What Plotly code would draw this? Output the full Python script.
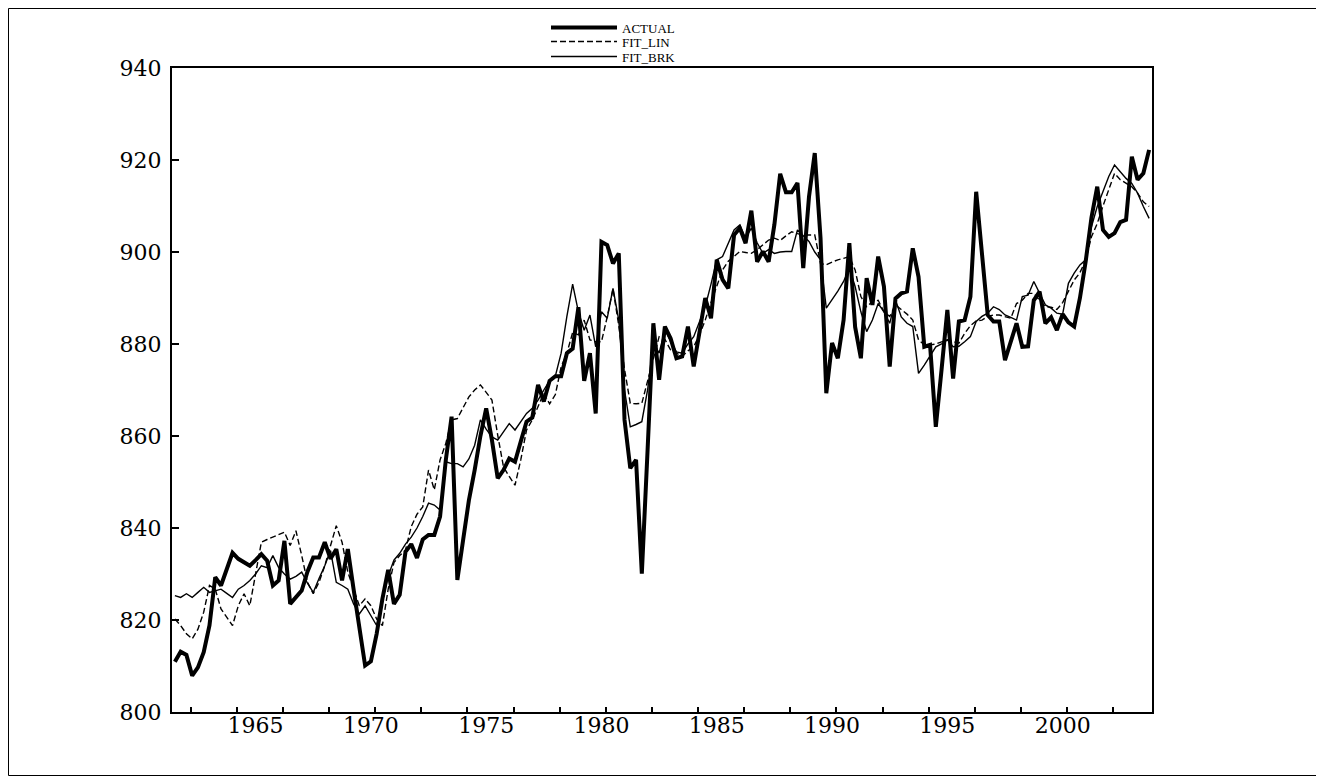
import numpy as np
import plotly.graph_objects as go

# ---------------- data (quarterly, first observation 1961Q3) ----------------
start_year, start_quarter = 1961, 3

actual = [
    810.9, 813.1, 812.4, 807.9, 809.7, 813.0, 818.8, 829.3, 827.5, 831.1,
    834.6, 833.3, 832.5, 831.8, 833.0, 834.3, 832.9, 827.5, 828.6, 837.2,
    823.5, 824.9, 826.4, 830.5, 833.6, 833.6, 836.9, 833.3, 835.4, 828.6,
    835.4, 826.7, 818.0, 810.1, 811.0, 817.0, 824.6, 830.9, 823.5, 825.5,
    834.8, 836.5, 833.5, 837.5, 838.5, 838.5, 842.5, 854.8, 864.2, 828.7,
    837.4, 846.0, 852.6, 860.0, 866.0, 859.1, 850.8, 852.6, 855.1, 854.4,
    858.8, 863.1, 864.0, 871.1, 867.5, 872.0, 873.0, 873.0, 878.0, 879.0,
    888.0, 872.0, 878.0, 864.9, 902.2, 901.5, 897.5, 899.7, 863.5, 853.0,
    854.8, 830.1, 857.0, 884.5, 872.2, 883.8, 881.2, 876.9, 877.3, 883.8,
    875.1, 883.0, 890.0, 885.6, 898.3, 894.0, 892.1, 903.7, 905.2, 901.9,
    909.0, 897.9, 900.1, 897.9, 906.0, 917.0, 913.0, 913.0, 915.0, 896.5,
    912.0, 921.5, 903.0, 869.3, 880.2, 876.9, 885.2, 901.9, 883.7, 876.9,
    894.3, 888.5, 899.0, 892.5, 875.1, 889.9, 891.0, 891.4, 900.8, 894.6,
    879.4, 879.8, 862.0, 874.5, 887.4, 872.5, 884.9, 885.2, 890.3, 913.1,
    900.0, 886.3, 884.9, 884.9, 876.5, 880.5, 884.5, 879.4, 879.5, 889.5,
    891.4, 884.5, 885.8, 883.0, 886.5, 884.7, 883.8, 890.0, 898.0, 907.5,
    914.2, 904.8, 903.3, 904.1, 906.5, 907.0, 920.7, 915.7, 917.1, 922.2,
]

fit_lin = [
    820.2, 818.8, 817.0, 815.9, 818.0, 821.7, 827.5, 826.7, 822.4, 820.5,
    818.8, 823.1, 825.7, 823.1, 830.4, 836.9, 837.5, 838.0, 838.5, 839.1,
    836.2, 839.4, 834.0, 828.2, 825.7, 828.2, 831.8, 836.2, 840.5, 836.9,
    830.4, 826.7, 823.1, 824.6, 823.1, 820.2, 818.8, 826.7, 832.5, 834.0,
    835.2, 840.3, 843.0, 844.6, 852.6, 848.3, 854.8, 858.4, 863.5, 863.8,
    866.0, 868.5, 870.0, 871.1, 869.5, 867.8, 860.2, 853.3, 851.2, 849.3,
    854.8, 861.3, 863.5, 866.4, 869.3, 867.0, 869.0, 875.0, 878.0, 882.5,
    882.0, 885.2, 880.9, 880.5, 880.5, 885.9, 892.0, 884.0, 874.5, 867.1,
    867.0, 867.1, 871.8, 877.0, 881.6, 881.0, 878.7, 878.0, 877.3, 878.5,
    879.4, 882.0, 885.2, 889.0, 892.5, 896.1, 898.0, 899.0, 900.1, 899.9,
    899.7, 900.5, 901.5, 902.6, 903.0, 902.5, 903.5, 904.4, 904.0, 903.7,
    903.7, 903.7, 897.5, 897.2, 897.8, 898.3, 898.6, 899.0, 896.1, 890.3,
    888.1, 889.2, 889.5, 887.0, 886.0, 888.5, 887.5, 886.5, 885.2, 880.9,
    879.8, 879.8, 880.0, 880.5, 880.9, 880.5, 880.2, 882.3, 884.0, 885.0,
    885.2, 886.0, 886.3, 886.3, 886.0, 885.6, 888.8, 889.5, 891.0, 891.0,
    889.5, 888.1, 888.0, 887.5, 889.0, 891.5, 893.9, 895.5, 898.3, 903.3,
    906.2, 910.0, 913.5, 917.1, 915.7, 915.0, 914.2, 912.8, 910.9, 909.9,
]

fit_brk = [
    825.3, 824.9, 825.7, 824.9, 826.0, 827.1, 826.0, 826.3, 826.7, 825.8,
    824.9, 826.7, 827.5, 828.6, 830.0, 831.8, 831.4, 834.0, 831.4, 830.0,
    828.9, 829.5, 830.4, 828.0, 826.0, 829.0, 831.8, 835.1, 828.2, 827.5,
    826.7, 823.5, 821.3, 823.1, 821.0, 818.8, 824.0, 829.6, 833.0, 834.5,
    836.5, 838.0, 840.0, 842.5, 845.4, 845.0, 843.9, 854.4, 854.0, 854.0,
    853.3, 855.0, 858.0, 863.5, 861.5, 859.8, 859.1, 861.0, 862.7, 861.3,
    863.1, 864.9, 866.0, 867.8, 870.0, 872.0, 873.0, 878.0, 886.0, 893.0,
    887.0, 883.0, 886.3, 879.4, 887.0, 885.6, 892.1, 885.2, 870.0, 862.0,
    862.5, 863.1, 870.0, 880.2, 878.0, 883.1, 880.5, 878.3, 878.0, 880.0,
    881.6, 885.0, 888.1, 893.0, 898.3, 899.0, 902.0, 904.8, 905.9, 903.0,
    905.2, 902.0, 899.7, 900.5, 899.7, 900.0, 900.1, 900.1, 904.8, 903.5,
    902.3, 900.0, 898.3, 887.8, 889.6, 891.5, 893.6, 896.5, 892.5, 887.0,
    882.7, 885.2, 888.8, 887.0, 884.5, 889.6, 885.9, 884.5, 883.8, 873.6,
    875.4, 877.5, 879.4, 880.0, 880.9, 879.4, 879.5, 880.5, 881.6, 884.9,
    886.0, 886.7, 888.1, 887.5, 886.3, 885.8, 885.2, 890.3, 890.6, 893.6,
    891.0, 888.5, 887.8, 886.7, 886.5, 893.2, 895.4, 897.2, 898.3, 905.5,
    909.9, 913.0, 916.4, 918.9, 917.5, 916.0, 914.9, 912.8, 909.9, 907.3,
]

label_years = [1965, 1970, 1975, 1980, 1985, 1990, 1995, 2000]
y_ticks = [800, 820, 840, 860, 880, 900, 920, 940]

# ---------------- derived categories ----------------
n = len(actual)
quarters = []
yr, qt = start_year, start_quarter
for _ in range(n):
    quarters.append(f"{yr}Q{qt}")
    qt += 1
    if qt > 4:
        qt, yr = 1, yr + 1

x = np.arange(n) + 0.5          # each observation centred in its slot
label_pos = [quarters.index(f"{y}Q1") + 0.5 for y in label_years]
minor_pos = list(np.arange(3.25, n, 8))

# page is offset by the 8px body margin; plot area wanted at page x 172..1152, y 68..712
OFF = 8
W, H = 1324 - OFF, 776 - OFF
PL, PR, PT, PB = 172, 1152, 68, 712
ML, MT = PL - OFF, PT - OFF
MR, MB = W - (PR - OFF), H - (PB - OFF)
PW, PH = PR - PL, PB - PT


def px_x(px):
    return (px - PL) / PW


def px_y(py):
    return (PB - py) / PH


legend_common = dict(
    xanchor="left", yanchor="middle", orientation="v",
    font=dict(family="Liberation Serif", size=13, color="black"),
    bgcolor="rgba(0,0,0,0)", borderwidth=0, itemwidth=66,
)

fig = go.Figure()
fig.add_trace(go.Scatter(x=x, y=fit_lin, mode="lines", name="FIT_LIN",
                         line=dict(color="black", width=1.4, dash="6px,3px"),
                         legend="legend2", customdata=quarters))
fig.add_trace(go.Scatter(x=x, y=fit_brk, mode="lines", name="FIT_BRK",
                         line=dict(color="black", width=1.4),
                         legend="legend3", customdata=quarters))
fig.add_trace(go.Scatter(x=x, y=actual, mode="lines", name="ACTUAL",
                         line=dict(color="black", width=4),
                         legend="legend", customdata=quarters))

axis_font = dict(family="DejaVu Serif", size=22, color="black")

fig.update_layout(
    width=W, height=H,
    margin=dict(l=ML, r=MR, t=MT, b=MB, pad=0, autoexpand=False),
    paper_bgcolor="white", plot_bgcolor="white",
    showlegend=True,
    legend=dict(x=px_x(546), y=px_y(27.5), **legend_common),
    legend2=dict(x=px_x(546), y=px_y(41.5), **legend_common),
    legend3=dict(x=px_x(546), y=px_y(56.5), **legend_common),
    xaxis=dict(
        range=[0, n], showgrid=False, zeroline=False,
        showline=True, linecolor="black", linewidth=2, mirror=True,
        tickmode="array", tickvals=label_pos,
        ticktext=[str(y) for y in label_years],
        ticks="", tickfont=axis_font, ticklabelstandoff=-7,
        minor=dict(tickmode="array", tickvals=minor_pos, ticks="inside",
                   ticklen=5, tickwidth=1.5, tickcolor="black", showgrid=False),
    ),
    yaxis=dict(
        range=[800, 940], showgrid=False, zeroline=False,
        showline=True, linecolor="black", linewidth=2, mirror=True,
        tickmode="array", tickvals=y_ticks,
        ticks="inside", ticklen=7, tickwidth=1.5, tickcolor="black",
        tickfont=axis_font, ticklabelstandoff=4,
    ),
    shapes=[dict(
        type="rect", xref="paper", yref="paper",
        x0=px_x(OFF + 0.5), x1=px_x(1323.5),
        y0=px_y(775.5), y1=px_y(OFF + 0.5),
        line=dict(color="black", width=1), fillcolor="rgba(0,0,0,0)",
        layer="below",
    )],
)

fig.write_html("out.html")
